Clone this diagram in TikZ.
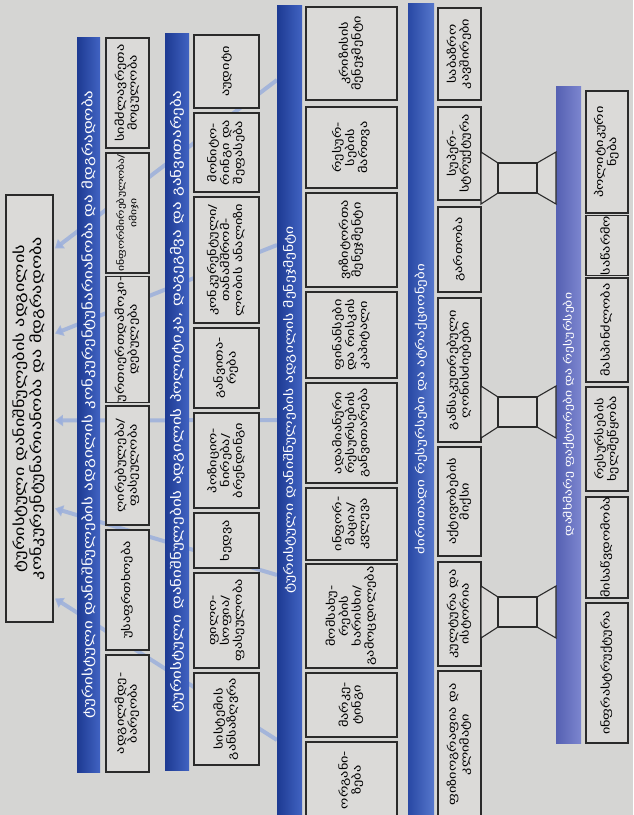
\documentclass[tikz,border=0pt]{standalone}
\usepackage{fontspec}
\setmainfont{DejaVu Sans}
\newfontfamily\geo[FakeStretch=1.3]{DejaVu Sans}
\usetikzlibrary{arrows.meta,calc}
\pgfdeclarelayer{back}
\pgfdeclarelayer{flows}
\pgfsetlayers{back,flows,main}

\definecolor{page}{HTML}{D5D5D3}
\definecolor{cellfill}{HTML}{DBDAD8}
\definecolor{cellline}{HTML}{2A2A2A}
\definecolor{bandL}{HTML}{1D3A92}
\definecolor{bandR}{HTML}{4163C2}
\definecolor{coreL}{HTML}{2848A4}
\definecolor{coreR}{HTML}{5677CC}
\definecolor{suppL}{HTML}{5560B2}
\definecolor{suppR}{HTML}{7C86CF}
\definecolor{flow}{HTML}{9CB0DC}

% rotated, centred multi-line label
\newcommand\vtext[1]{\rotatebox{90}{\begin{tabular}{@{}c@{}}#1\end{tabular}}}
% a framed cell given by its corners: name, x1, y1, x2, y2, text
\newcommand\cellbox[6]{%
  \node[cell, minimum width={(#4-#2)*1pt}, minimum height={(#5-#3)*1pt}]
    (#1) at ({(#2+#4)/2},{(#3+#5)/2}) {\vtext{#6}};}
% a shaded heading band: name, x1, y1, x2, y2, left colour, right colour, size, text
\newcommand\bandbox[9]{%
  \node[band, left color=#6, right color=#7, font=\geo\fontsize{#8}{#8}\selectfont,
        minimum width={(#4-#2)*1pt}, minimum height={(#5-#3)*1pt}]
    (#1) at ({(#2+#4)/2},{(#3+#5)/2}) {\rotatebox{90}{#9}};}

\tikzset{
  cell/.style={draw=cellline, fill=cellfill, line width=1.1pt,
    inner sep=0pt, outer sep=0pt, font=\geo\fontsize{11}{12.5}\selectfont},
  band/.style={inner sep=0pt, outer sep=0pt, text=white},
  flowline/.style={draw=flow, line width=4pt, draw opacity=0.85,
    -{Triangle[width=11pt,length=8pt]}},
  pipe/.style={draw=cellline, fill=cellfill, line width=1.1pt, line join=miter}
}

\begin{document}
\begin{tikzpicture}[x=1pt,y=-1pt]
\begin{pgfonlayer}{back}
  \fill[page] (0,0) rectangle (633,815);
\end{pgfonlayer}
\useasboundingbox (0,0) rectangle (633,815);

% competitiveness box
\node[cell, minimum width=47pt, minimum height=427pt,
      font=\geo\fontsize{14}{16}\selectfont] (title) at (29.5,408.5)
  {\vtext{ტურისტული დანიშნულების ადგილის\\კონკურენტუნარიანობა და მდგრადობა}};

% qualifying determinants
\bandbox{band1}{77}{37}{100}{772}{bandL}{bandR}{13}{ტურისტული დანიშნულების ადგილის კონკურენტუნარიანობა და მდგრადობა}
\cellbox{q1}{106}{38}{149}{148}{სიმძლავრეთა\\მოცულობა}
\node[cell, minimum width=43pt, minimum height=120pt,
      font=\geo\fontsize{9}{12.5}\selectfont] (q2) at (127.5,213)
  {\vtext{ინფორმირებულობა/\\იმიჯი}};
\cellbox{q3}{106}{278}{149}{401}{ურთიერთდამოკი-\\დებულება}
\cellbox{q4}{106}{406}{149}{525}{ღირებულება/\\ფასეულობა}
\cellbox{q5}{106}{530}{149}{650}{უსაფრთხოება}
\cellbox{q6}{106}{655}{149}{772}{ადგილმდე-\\ბარეობა}

% policy, planning and development
\bandbox{band2}{165}{33}{189}{770}{bandL}{bandR}{13}{ტურისტული დანიშნულების ადგილის პოლიტიკა, დაგეგმვა და განვითარება}
\cellbox{p1}{194}{35}{259}{108}{აუდიტი}
\cellbox{p2}{194}{113}{259}{192}{მონიტო-\\რინგი და\\შეფასება}
\cellbox{p3}{194}{197}{259}{323}{კონკურენტული/\\თანამშრომ-\\ლობის ანალიზი}
\cellbox{p4}{194}{328}{259}{408}{განვითა-\\რება}
\cellbox{p5}{194}{413}{259}{508}{პოზიციო-\\ნირება/\\ბრენდინგი}
\cellbox{p6}{194}{513}{259}{568}{ხედვა}
\cellbox{p7}{194}{573}{259}{668}{ფილო-\\სოფია/\\ფასეულობა}
\cellbox{p8}{194}{673}{259}{765}{სისტემის\\განსაზღვრა}

% destination management
\bandbox{band3}{277}{5}{302}{815}{bandL}{bandR}{12}{ტურისტული დანიშნულების ადგილის მენეჯმენტი}
\cellbox{m1}{306}{7}{397}{100}{კრიზისის\\მენეჯმენტი}
\cellbox{m2}{306}{107}{397}{188}{რესურ-\\სების\\მართვა}
\cellbox{m3}{306}{193}{397}{287}{ვიზიტორთა\\მენეჯმენტი}
\cellbox{m4}{306}{292}{397}{378}{ფინანსები\\და რისკის\\კაპიტალი}
\cellbox{m5}{306}{383}{397}{483}{ადამიანური\\რესურსების\\განვითარება}
\cellbox{m6}{306}{488}{397}{560}{ინფორ-\\მაცია/\\კვლევა}
\cellbox{m7}{306}{564}{397}{668}{მომსახუ-\\რების\\ხარისხი/\\გამოცდილება}
\cellbox{m8}{306}{673}{397}{737}{მარკე-\\ტინგი}
\cellbox{m9}{306}{742}{397}{818}{ორგანი-\\ზება}

% core resources and attractors
\bandbox{band4}{408}{3}{434}{815}{coreL}{coreR}{11.5}{ძირითადი რესურსები და ატრაქციონები}
\cellbox{c1}{438}{8}{481}{100}{საბაზრო\\კავშირები}
\cellbox{c2}{438}{107}{481}{200}{სუპერ-\\სტრუქტურა}
\cellbox{c3}{438}{207}{481}{292}{გართობა}
\cellbox{c4}{438}{298}{481}{442}{განსაკუთრებული\\ღონისძიებები}
\cellbox{c5}{438}{447}{481}{556}{აქტივობების\\მიქსი}
\cellbox{c6}{438}{562}{481}{666}{კულტურა და\\ისტორია}
\cellbox{c7}{438}{671}{481}{818}{ფიზიოგრაფია და\\კლიმატი}

% supporting factors and resources
\bandbox{band5}{556}{86}{581}{743}{suppL}{suppR}{10.5}{დამხმარე ფაქტორები და რესურსები}
\cellbox{s1}{586}{91}{628}{213}{პოლიტიკური\\ნება}
\cellbox{s2}{586}{218}{628}{273}{საწარმო}
\cellbox{s3}{586}{278}{628}{382}{მასპინძლობა}
\cellbox{s4}{586}{387}{628}{491}{რესურსების\\ხელშეწყობა}
\cellbox{s5}{586}{497}{628}{598}{მისაწვდომობა}
\cellbox{s6}{586}{603}{628}{743}{ინფრასტრუქტურა}

% links between the core resources and the supporting band
\foreach \cc/\yy in {c2/178, c4/412, c6/612}{
  \path (\cc.east |- 0,\yy) coordinate (pa) (band5.west |- 0,\yy) coordinate (pb);
  \draw[pipe] ($(pa)+(0,-26)$) -- ($(pa)+(17,-15)$) -- ($(pa)+(17,15)$) -- ($(pa)+(0,26)$) -- cycle;
  \draw[pipe] ($(pb)+(0,-26)$) -- ($(pb)+(-19,-15)$) -- ($(pb)+(-19,15)$) -- ($(pb)+(0,26)$) -- cycle;
  \draw[pipe] ($(pa)+(17,-15)$) rectangle ($(pb)+(-19,15)$);
}

% arrows gathering into the competitiveness box
\begin{pgfonlayer}{flows}
  \foreach \i/\sy/\ty in {1/-330/-160, 2/-165/-75, 3/10/12, 4/165/100, 5/330/190}{
    \coordinate (fs\i) at ($(band3.west)+(0,\sy)$);
    \coordinate (ft\i) at ($(title.east)+(2,\ty)$);
    \draw[flowline] (fs\i) -- (ft\i);
  }
\end{pgfonlayer}
\end{tikzpicture}
\end{document}
